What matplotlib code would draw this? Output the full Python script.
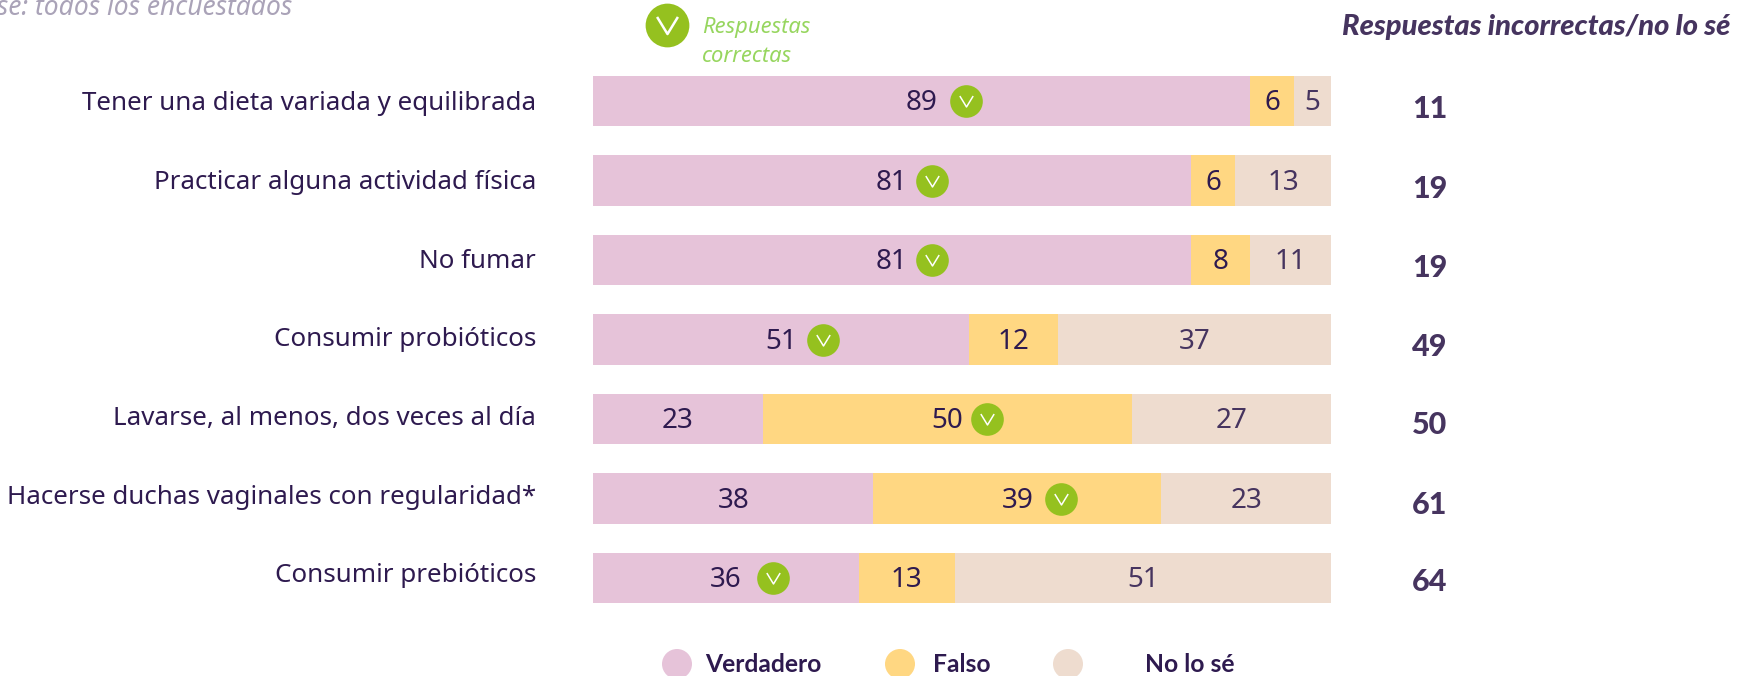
import matplotlib
matplotlib.use("Agg")
import matplotlib.pyplot as plt
from matplotlib.path import Path
from matplotlib.transforms import Affine2D
from matplotlib.patches import Ellipse

categories = ["Tener una dieta variada y equilibrada", "Practicar alguna actividad física", "No fumar",
              "Consumir probióticos", "Lavarse, al menos, dos veces al día",
              "Hacerse duchas vaginales con regularidad*", "Consumir prebióticos"]
verdadero = [89, 81, 81, 51, 23, 38, 36]
falso = [6, 6, 8, 12, 50, 39, 13]
no_lo_se = [5, 13, 11, 37, 27, 23, 51]
incorrectas = [11, 19, 19, 49, 50, 61, 64]
correct_series = [0, 0, 0, 0, 1, 1, 0]   # 0 = Verdadero, 1 = Falso
series_names = ["Verdadero", "Falso", "No lo sé"]

W, H = 1739, 676
DARK, MID = "#2e1a4f", "#46345f"
PINK, YEL, BEI = "#e6c3d9", "#ffd782", "#eedccf"
GREEN, LGREEN = "#95c11f", "#97d65f"
plt.rcParams["font.family"] = ["Noto Sans", "DejaVu Sans"]
HEAVY = ["Lato", "DejaVu Sans"]

fig = plt.figure(figsize=(W / 100, H / 100), dpi=100, facecolor="white")
ax = fig.add_axes([593 / W, 1 - 617.75 / H, 738 / W, 556.5 / H])
px = Affine2D().scale(1, -1).translate(0, H)   # top-left pixel frame for decoration

ys = list(range(len(categories)))
left2 = [a + b for a, b in zip(verdadero, falso)]
ax.barh(ys, verdadero, height=0.635, color=PINK)
ax.barh(ys, falso, left=verdadero, height=0.635, color=YEL)
ax.barh(ys, no_lo_se, left=left2, height=0.635, color=BEI)
ax.set_xlim(0, 100)
ax.set_ylim(6.5, -0.5)
ax.axis("off")

check = Path([(-0.5, 0.41), (0, -0.41), (0.5, 0.41)], [Path.MOVETO, Path.LINETO, Path.LINETO])
badge_dx = [45, 40, 40, 42, 40, 44, 47]
label_dy = [-3, -2, -2, 0, 0, 1, 3]
num_dy = [8, 8, 8, 7, 6, 6, 4]
FS = 18.7
DS = 20


def val(s, x, i, col):
    ax.annotate(s, (x, i), xytext=(0, -1.5), textcoords="offset points", ha="center", va="center",
                fontsize=DS, color=col)


for i in ys:
    v, f, n = verdadero[i], falso[i], no_lo_se[i]
    val(str(v), v / 2, i, DARK)
    val(str(f), v + f / 2, i, DARK)
    val(str(n), v + f + n / 2, i, MID)
    ax.annotate(categories[i], (0, i), xytext=(-57 * 0.72, label_dy[i] * 0.72), textcoords="offset points",
                ha="right", va="center", fontsize=FS, color=DARK, annotation_clip=False)
    ax.annotate(str(incorrectas[i]), (0, i), xytext=((1430 - 593) * 0.72, -num_dy[i] * 0.72),
                textcoords="offset points", ha="center", va="center", fontsize=22, fontweight=900,
                family=HEAVY, color=MID, annotation_clip=False)
    cx = v / 2 if correct_series[i] == 0 else v + f / 2
    tr = ax.transData + Affine2D().translate(badge_dx[i], 0)
    ax.plot([cx], [i], marker="o", ms=23.5, mfc=GREEN, mec="none", transform=tr, clip_on=False)
    ax.plot([cx], [i], marker=check, ms=9.6, mfc="none", mec="white", mew=1.1, transform=tr, clip_on=False)

# correct-answer key
fig.add_artist(plt.Line2D([667], [25], marker="o", ms=31.5, mfc=GREEN, mec="none", transform=px))
fig.add_artist(plt.Line2D([667], [25], marker=check, ms=15, mfc="none", mec="white", mew=1.8, transform=px))
fig.text(702, 28, "Respuestas", transform=px, va="center", ha="left", style="italic", fontsize=15.8, color=LGREEN)
fig.text(702, 56, "correctas", transform=px, va="center", ha="left", style="italic", fontsize=15.8, color=LGREEN)

fig.text(1342, 27, "Respuestas incorrectas/no lo sé", transform=px, va="center", ha="left",
         style="italic", fontweight=900, family=HEAVY, fontsize=21, color=MID)
fig.text(292, 15, "Base: todos los encuestados", transform=px, va="baseline", ha="right",
         style="italic", fontsize=19, color="#aaa3b8")

# legend
for name, col, cx, tx in zip(series_names, [PINK, YEL, BEI], [677, 900, 1068], [705, 933, 1145]):
    fig.add_artist(Ellipse((cx, 664), 30, 30, fc=col, ec="none", transform=px))
    fig.text(tx, 664, name, transform=px, va="center", ha="left", fontsize=17.7, fontweight="bold",
             family=HEAVY, color=DARK)

fig.savefig("out.png", dpi=100)
